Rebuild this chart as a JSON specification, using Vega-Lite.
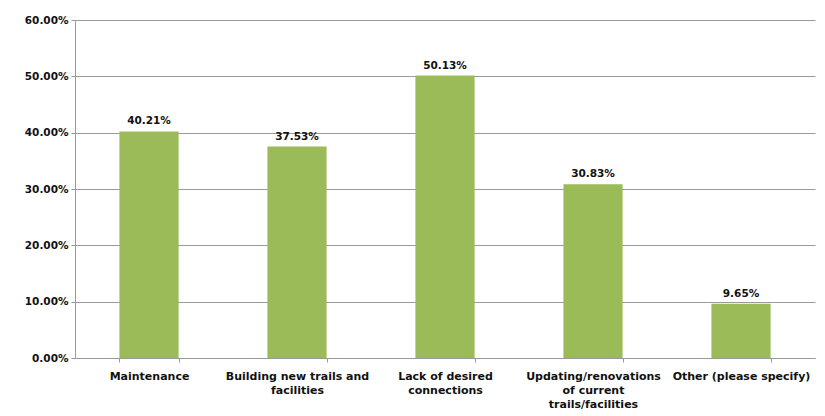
{
  "$schema": "https://vega.github.io/schema/vega-lite/v6.json",
  "autosize": "none",
  "width": 740,
  "height": 338,
  "padding": {"left": 75, "top": 20, "right": 10, "bottom": 58},
  "background": "white",
  "config": {
    "view": {"stroke": null},
    "font": "DejaVu Sans",
    "axis": {"labelFont": "DejaVu Sans", "labelFontWeight": "bold", "labelFontSize": 11, "labelColor": "#111"}
  },
  "data": {
    "values": [
      {"category": "Maintenance", "value": 0.4021},
      {"category": "Building new trails and facilities", "value": 0.3753},
      {"category": "Lack of desired connections", "value": 0.5013},
      {"category": "Updating/renovations of current trails/facilities", "value": 0.3083},
      {"category": "Other (please specify)", "value": 0.0965}
    ]
  },
  "encoding": {
    "x": {
      "field": "category",
      "type": "nominal",
      "sort": null,
      "scale": {"paddingInner": 0.6, "paddingOuter": 0.3},
      "axis": {
        "title": null,
        "labelAngle": 0,
        "labelPadding": 8,
        "labelLimit": 220,
        "labelLineHeight": 14,
        "labelOverlap": false,
        "domainColor": "#999",
        "tickColor": "#999",
        "tickSize": 4,
        "tickBand": "extent",
        "labelExpr": "datum.value == 'Building new trails and facilities' ? ['Building new trails and', 'facilities'] : datum.value == 'Lack of desired connections' ? ['Lack of desired', 'connections'] : datum.value == 'Updating/renovations of current trails/facilities' ? ['Updating/renovations', 'of current', 'trails/facilities'] : datum.value"
      }
    },
    "y": {
      "field": "value",
      "type": "quantitative",
      "scale": {"domain": [0, 0.6], "nice": false},
      "axis": {
        "title": null,
        "format": ".2%",
        "values": [0, 0.1, 0.2, 0.3, 0.4, 0.5, 0.6],
        "labelOverlap": false,
        "labelFontSize": 10.5,
        "grid": true,
        "gridColor": "#9a9a9a",
        "gridWidth": 1,
        "domainColor": "#999",
        "tickColor": "#999",
        "tickSize": 4,
        "labelPadding": 3
      }
    }
  },
  "layer": [
    {"mark": {"type": "bar", "color": "#9bbb59"}},
    {
      "mark": {"type": "text", "dy": -10, "fontWeight": "bold", "fontSize": 10.5, "font": "DejaVu Sans", "color": "#111"},
      "encoding": {"text": {"field": "value", "type": "quantitative", "format": ".2%"}}
    }
  ]
}
